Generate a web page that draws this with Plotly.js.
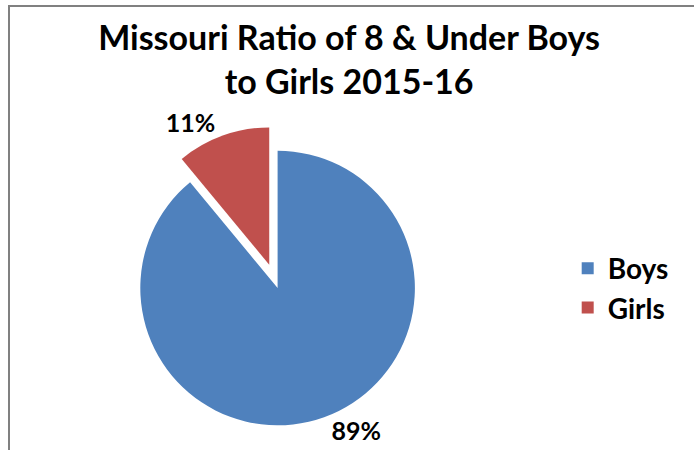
<!DOCTYPE html>
<html>
<head>
<meta charset="utf-8">
<script src="https://cdn.plot.ly/plotly-3.0.1.min.js"></script>
<style>
  html, body { margin: 0; padding: 0; background: #fff; }
  #frame { position: absolute; left: 8px; top: 5px; width: 686px; height: 445px;
           border-top: 2px solid #808080; border-left: 2px solid #808080; box-sizing: border-box; }
  #chart { position: absolute; left: 0; top: 0; width: 694px; height: 450px; }
</style>
</head>
<body>
<div id="frame"></div>
<div id="chart"></div>
<script>
const categories = ["Boys", "Girls"];
const values = [89, 11];
const colors = ["#4F81BD", "#C0504D"];
const pulls = [0, 0.18];
const titleText = "Missouri Ratio of 8 & Under Boys<br>to Girls 2015-16";

const fontFamily = "Lato, 'Open Sans', sans-serif";

const trace = {
  type: "pie",
  labels: categories,
  values: values,
  sort: false,
  direction: "clockwise",
  rotation: 0,
  pull: pulls,
  marker: { colors: colors, line: { width: 0 } },
  textinfo: "percent",
  textposition: "outside",
  textfont: { family: fontFamily, size: 25, color: "#000", weight: "bold" },
  domain: { x: [0.12, 0.68], y: [0.0, 0.72] },
  hoverinfo: "label+percent"
};

const layout = {
  width: 694,
  height: 450,
  margin: { l: 0, r: 0, t: 0, b: 0 },
  paper_bgcolor: "rgba(0,0,0,0)",
  plot_bgcolor: "rgba(0,0,0,0)",
  title: {
    text: titleText,
    font: { family: fontFamily, size: 34, color: "#000", weight: "bold" },
    x: 0.503, xanchor: "center",
    y: 0.89, yanchor: "top"
  },
  showlegend: true,
  legend: {
    x: 0.818, xanchor: "left",
    y: 0.36, yanchor: "middle",
    font: { family: fontFamily, size: 28, color: "#000", weight: "bold" },
    bgcolor: "rgba(0,0,0,0)"
  }
};

Plotly.newPlot("chart", [trace], layout, { displayModeBar: false, staticPlot: true });
</script>
</body>
</html>
